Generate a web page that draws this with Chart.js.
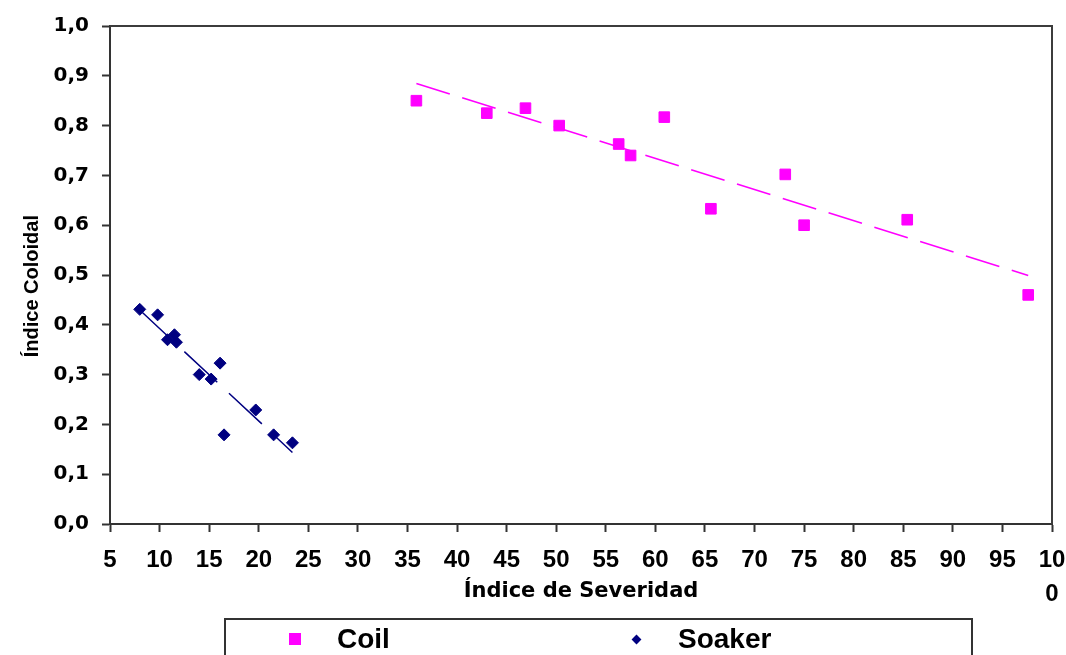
<!DOCTYPE html>
<html lang="es">
  <head>
    <meta charset="UTF-8" />
    <title>Índice Coloidal vs Índice de Severidad</title>
    <style>
      html,
      body {
        margin: 0;
        padding: 0;
        background: #fff;
        overflow: hidden;
      }
      .container {
        position: relative;
        width: 1066px;
        height: 655px;
        overflow: hidden;
      }
      #legend {
        position: absolute;
        left: 224px;
        top: 618px;
        width: 745px;
        height: 80px;
        border: 2px solid #333;
      }
      #legend ul {
        display: flex;
        margin: 0;
        padding: 0 0 0 63px;
        list-style: none;
      }
      #legend li {
        display: flex;
        align-items: center;
        width: 375px;
        height: 38px;
        font: bold 28px "Liberation Sans", Arial, sans-serif;
        color: #000;
      }
      #legend .mark {
        display: inline-flex;
        align-items: center;
        justify-content: center;
        width: 12px;
        height: 12px;
        margin-right: 36px;
      }
    </style>
    <script src="https://cdn.jsdelivr.net/npm/chart.js"></script>
  </head>
  <body>
    <div class="container">
      <canvas id="chart" width="1066" height="655"></canvas>
      <div id="legend"></div>
    </div>
    <script>
      // Coil
      const coilX = [35.9, 43.0, 46.9, 50.3, 56.3, 57.5, 60.9, 65.6, 73.1, 75.0, 85.4, 97.6];
      const coilY = [0.85, 0.825, 0.835, 0.8, 0.763, 0.74, 0.817, 0.633, 0.702, 0.6, 0.611, 0.46];
      // Soaker
      const soakerX = [8.0, 9.8, 10.8, 11.5, 11.7, 14.0, 15.2, 16.1, 19.7, 16.5, 21.5, 23.4];
      const soakerY = [0.431, 0.42, 0.37, 0.38, 0.365, 0.3, 0.291, 0.323, 0.229, 0.179, 0.179, 0.163];

      const xTickLabels = ["5", "10", "15", "20", "25", "30", "35", "40", "45", "50",
        "55", "60", "65", "70", "75", "80", "85", "90", "95", ["10", "0"]];
      const yTickLabels = ["0,0", "0,1", "0,2", "0,3", "0,4", "0,5", "0,6", "0,7", "0,8", "0,9", "1,0"];

      const toPoints = (xs, ys) => xs.map((x, i) => ({ x, y: ys[i] }));

      // linea de tendencia (minimos cuadrados) entre el x minimo y el maximo
      const trend = (xs, ys) => {
        const n = xs.length;
        const mx = xs.reduce((a, b) => a + b, 0) / n;
        const my = ys.reduce((a, b) => a + b, 0) / n;
        let sxy = 0, sxx = 0;
        xs.forEach((x, i) => {
          sxy += (x - mx) * (ys[i] - my);
          sxx += (x - mx) * (x - mx);
        });
        const m = sxy / sxx;
        const b = my - m * mx;
        const x0 = Math.min(...xs), x1 = Math.max(...xs);
        return [{ x: x0, y: m * x0 + b }, { x: x1, y: m * x1 + b }];
      };

      const COIL = "#ff00ff";
      const SOAKER = "#000080";
      const AXIS = "#333333";

      // borde superior y derecho del area de trazado
      const plotFrame = {
        id: "plotFrame",
        beforeDatasetsDraw(chart) {
          const { ctx, chartArea: a } = chart;
          ctx.save();
          ctx.strokeStyle = "#3c3c3c";
          ctx.lineWidth = 2;
          ctx.beginPath();
          ctx.moveTo(a.left, a.top);
          ctx.lineTo(a.right, a.top);
          ctx.lineTo(a.right, a.bottom);
          ctx.stroke();
          ctx.restore();
        },
      };

      // leyenda en html, solo las series de puntos
      const htmlLegend = {
        id: "htmlLegend",
        afterUpdate(chart) {
          const box = document.getElementById("legend");
          box.innerHTML = "";
          const ul = document.createElement("ul");
          chart.data.datasets.forEach((ds) => {
            if (ds.trend) return;
            const li = document.createElement("li");
            const mark = document.createElement("span");
            mark.className = "mark";
            const shape = document.createElement("span");
            shape.style.background = ds.backgroundColor;
            if (ds.pointStyle === "rectRot") {
              shape.style.width = "7px";
              shape.style.height = "7px";
              shape.style.transform = "rotate(45deg)";
            } else {
              shape.style.width = "12px";
              shape.style.height = "12px";
            }
            mark.appendChild(shape);
            li.appendChild(mark);
            li.appendChild(document.createTextNode(ds.label));
            ul.appendChild(li);
          });
          box.appendChild(ul);
        },
      };

      new Chart(document.getElementById("chart"), {
        type: "scatter",
        data: {
          datasets: [
            {
              label: "Coil",
              data: toPoints(coilX, coilY),
              pointStyle: "rect",
              pointRadius: 7.5,
              backgroundColor: COIL,
              borderColor: COIL,
              borderWidth: 1,
              order: 1,
            },
            {
              label: "Soaker",
              data: toPoints(soakerX, soakerY),
              pointStyle: "rectRot",
              pointRadius: 6,
              backgroundColor: SOAKER,
              borderColor: SOAKER,
              borderWidth: 1,
              order: 1,
            },
            {
              label: "Tendencia Coil",
              trend: true,
              type: "line",
              data: trend(coilX, coilY),
              borderColor: COIL,
              borderWidth: 1.6,
              borderDash: [35, 13],
              pointRadius: 0,
              fill: false,
              order: 2,
            },
            {
              label: "Tendencia Soaker",
              trend: true,
              type: "line",
              data: trend(soakerX, soakerY),
              borderColor: SOAKER,
              borderWidth: 1.5,
              borderDash: [45, 16],
              pointRadius: 0,
              fill: false,
              order: 2,
            },
          ],
        },
        options: {
          responsive: false,
          animation: false,
          devicePixelRatio: 1,
          layout: { padding: { top: 26, right: 14, left: 0, bottom: 0 } },
          plugins: {
            legend: { display: false },
            tooltip: { enabled: false },
          },
          scales: {
            x: {
              type: "linear",
              min: 5,
              max: 100,
              afterFit(scale) {
                scale.height = 131;
                // las etiquetas de los extremos pueden salirse del area
                scale.paddingLeft = 0;
                scale.paddingRight = 0;
              },
              ticks: {
                stepSize: 5,
                autoSkip: false,
                maxRotation: 0,
                padding: 12,
                color: "#000",
                font: { family: "Liberation Sans", size: 24, weight: "bold", lineHeight: 1.4 },
                callback: (v, i) => xTickLabels[i],
              },
              grid: {
                drawOnChartArea: false,
                tickLength: 8,
                tickWidth: 2,
                tickColor: AXIS,
              },
              border: { color: AXIS, width: 2 },
              title: {
                display: true,
                text: "Índice de Severidad",
                color: "#000",
                font: { family: "DejaVu Sans", size: 21, weight: "bold", lineHeight: 1.2 },
                padding: { top: 0, bottom: 51 },
              },
            },
            y: {
              min: 0,
              max: 1,
              afterFit(scale) {
                scale.width = 110;
                scale.paddingTop = 0;
                scale.paddingBottom = 0;
              },
              ticks: {
                stepSize: 0.1,
                padding: 13,
                color: "#000",
                font: { family: "DejaVu Sans", size: 20, weight: "bold" },
                callback: (v, i) => yTickLabels[i],
              },
              grid: {
                drawOnChartArea: false,
                tickLength: 8,
                tickWidth: 2,
                tickColor: AXIS,
              },
              border: { color: AXIS, width: 2 },
              title: {
                display: true,
                text: "Índice Coloidal    ",
                color: "#000",
                font: { family: "Liberation Sans", size: 20, weight: "bold", lineHeight: 1.2 },
                padding: { top: 20, bottom: 0 },
              },
            },
          },
        },
        plugins: [plotFrame, htmlLegend],
      });
    </script>
  </body>
</html>
